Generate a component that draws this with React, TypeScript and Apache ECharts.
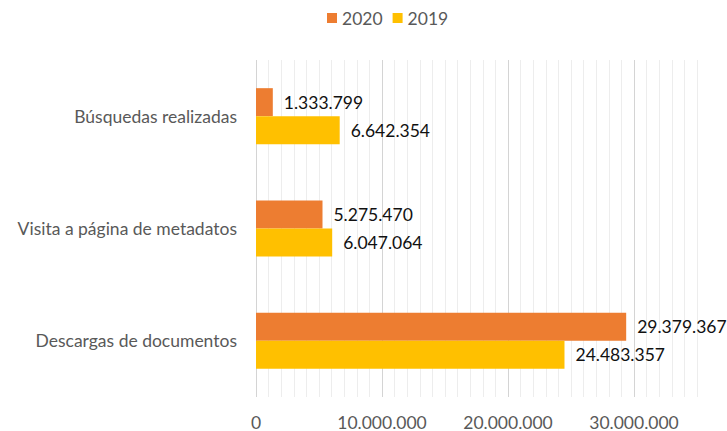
import React, { useEffect, useRef } from "react";
import * as echarts from "echarts";

const categories = ["Búsquedas realizadas", "Visita a página de metadatos", "Descargas de documentos"];
const series2020 = [1333799, 5275470, 29379367];
const series2019 = [6642354, 6047064, 24483357];
const seriesNames = ["2020", "2019"];

const fmt = (v: number) => String(Math.round(v)).replace(/\B(?=(\d{3})+(?!\d))/g, ".");

export default function App() {
  const ref = useRef<HTMLDivElement>(null);
  useEffect(() => {
    document.body.style.margin = "0";
    const chart = echarts.init(ref.current!, null, { renderer: "svg" });
    const font = "Lato, 'Open Sans', sans-serif";
    const fs = 17.5;
    const major = "#d4d4d4";
    const minor = "#ededed";
    const lineColors = [major, minor, minor, minor, minor, minor, minor, minor, minor, minor];
    const label = {
      show: true,
      position: "right",
      distance: 11,
      fontSize: fs,
      color: "#111111",
      fontFamily: font,
      formatter: (p: any) => fmt(p.value),
    };
    chart.setOption({
      animation: false,
      textStyle: { fontFamily: font },
      legend: {
        top: 4,
        left: 322,
        itemWidth: 10,
        itemHeight: 10,
        itemGap: 10,
        icon: "rect",
        textStyle: { fontSize: fs, color: "#595959", fontFamily: font },
        data: seriesNames,
      },
      grid: { left: 256, right: 30, top: 60, bottom: 33, containLabel: false },
      xAxis: {
        type: "value",
        min: 0,
        max: 35000000,
        interval: 1000000,
        axisLine: { show: false },
        axisTick: { show: false },
        splitLine: { show: true, lineStyle: { color: lineColors, width: 1 } },
        axisLabel: {
          fontSize: fs,
          color: "#595959",
          margin: 16,
          fontFamily: font,
          formatter: (v: number) => (v % 10000000 === 0 ? fmt(v) : ""),
        },
      },
      yAxis: {
        type: "category",
        inverse: true,
        data: categories,
        axisLine: { show: false },
        axisTick: { show: false },
        axisLabel: { fontSize: fs, color: "#595959", margin: 19, fontFamily: font },
      },
      series: [
        {
          name: seriesNames[0],
          type: "bar",
          data: series2020,
          barWidth: 28,
          barGap: "0%",
          itemStyle: { color: "#ED7D31" },
          label,
        },
        {
          name: seriesNames[1],
          type: "bar",
          data: series2019,
          barWidth: 28,
          barGap: "0%",
          itemStyle: { color: "#FFC000" },
          label,
        },
      ],
    });
    return () => chart.dispose();
  }, []);
  return <div ref={ref} style={{ width: 727, height: 431 }} />;
}
